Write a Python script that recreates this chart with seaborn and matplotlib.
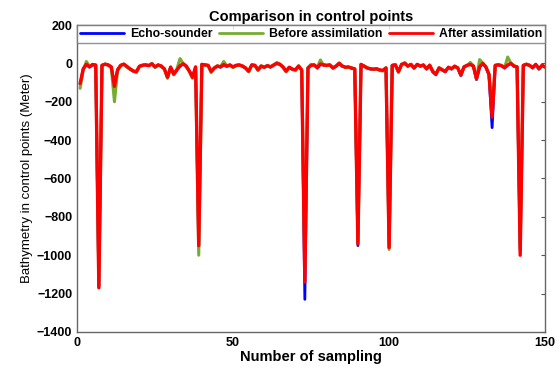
import matplotlib
matplotlib.use("Agg")
import matplotlib.pyplot as plt
import seaborn as sns
import numpy as np
import pandas as pd

sns.set_style("white")
plt.rcParams['font.family'] = ['Liberation Sans', 'DejaVu Sans']
plt.rcParams['text.color'] = 'black'
plt.rcParams['axes.labelcolor'] = 'black'

samples = list(range(1, 151))

echo_sounder = [
    -110, -30, -5, -20, -8, -10, -1165, -10, -5, -8,
    -20, -110, -35, -10, -5, -18, -30, -40, -45, -15,
    -10, -8, -12, -2, -20, -8, -15, -30, -75, -20,
    -58, -35, -15, -2, -15, -40, -75, -20, -960, -5,
    -8, -10, -45, -25, -15, -20, -8, -15, -8, -20,
    -10, -8, -15, -25, -43, -8, -10, -35, -15, -20,
    -12, -20, -10, 0, -5, -20, -43, -20, -30, -35,
    -15, -35, -1230, -25, -10, -8, -25, -5, -8, -10,
    -8, -25, -15, 0, -15, -20, -20, -25, -30, -950,
    -5, -15, -25, -30, -30, -30, -35, -38, -25, -960,
    -10, -8, -45, -5, 0, -15, -5, -25, -5, -15,
    -8, -30, -10, -45, -60, -25, -35, -45, -20, -30,
    -15, -25, -65, -20, -10, -5, -15, -85, -20, 0,
    -20, -60, -335, -10, -8, -12, -25, -10, 0, -15,
    -20, -975, -10, -5, -10, -25, -5, -30, -10, -20,
]

before_assim = [
    -130, -35, 10, -15, -5, -12, -1160, -12, -3, -10,
    -25, -200, -40, -12, -3, -20, -32, -38, -48, -18,
    -12, -5, -10, 0, -22, -10, -12, -32, -78, -18,
    -60, -30, 25, 0, -18, -42, -78, -22, -1000, -8,
    -10, -12, -48, -22, -12, -18, 10, -12, -10, -22,
    -12, -10, -12, -22, -45, -10, -12, -38, -12, -22,
    -10, -18, -12, 5, -3, -22, -45, -22, -32, -38,
    -12, -38, -1060, -22, -5, -10, -20, 18, -10, -12,
    -10, -22, -12, 3, -12, -22, -22, -22, -32, -935,
    -8, -12, -22, -28, -32, -28, -38, -40, -22, -970,
    -12, -5, -48, -8, 5, -12, -8, -22, -8, -12,
    -10, -28, -8, -42, -55, -22, -32, -42, -22, -28,
    -18, -22, -62, -18, -12, 5, -12, -82, 20, 2,
    -18, -55, -250, -12, -5, -10, -22, 33, 2, -12,
    -18, -960, -12, -3, -12, -22, -8, -28, -12, -22,
]

after_assim = [
    -105, -28, -5, -18, -6, -8, -1170, -10, -4, -8,
    -18, -120, -33, -10, -4, -16, -28, -40, -43, -15,
    -9, -8, -12, -2, -18, -8, -14, -28, -72, -20,
    -56, -34, -12, -2, -14, -40, -72, -18, -950, -5,
    -8, -10, -42, -24, -14, -18, -6, -15, -8, -18,
    -10, -8, -14, -24, -40, -8, -10, -33, -14, -20,
    -12, -18, -8, 0, -5, -18, -40, -20, -30, -33,
    -14, -34, -1140, -24, -10, -8, -22, -3, -8, -10,
    -8, -24, -15, 0, -14, -20, -18, -25, -28, -940,
    -5, -15, -24, -28, -30, -28, -34, -36, -24, -960,
    -10, -8, -42, -5, 0, -14, -5, -24, -5, -14,
    -8, -28, -10, -42, -56, -24, -33, -42, -20, -28,
    -14, -24, -60, -18, -10, -5, -14, -80, -18, 0,
    -18, -58, -280, -10, -8, -12, -22, -8, 0, -14,
    -18, -1000, -10, -5, -10, -22, -5, -28, -10, -18,
]

series_names = ["Echo-sounder", "Before assimilation", "After assimilation"]
colors = ["#0000FF", "#77AC30", "#FF0000"]
widths = [2.0, 2.2, 2.4]
x_ticks = [0, 50, 100, 150]
y_ticks = [200, 0, -200, -400, -600, -800, -1000, -1200, -1400]

df = pd.DataFrame({
    "sample": samples * 3,
    "depth": echo_sounder + before_assim + after_assim,
    "series": [series_names[0]] * 150 + [series_names[1]] * 150 + [series_names[2]] * 150,
})

fig = plt.figure(figsize=(5.6, 3.68), dpi=100)
ax = fig.add_axes([0.1375, 0.098, 0.836, 0.834])

for name, c, lw in zip(series_names, colors, widths):
    sub = df[df["series"] == name]
    sns.lineplot(data=sub, x="sample", y="depth", color=c, linewidth=lw,
                 ax=ax, label=name, estimator=None, sort=False)

ax.set_xlim(0, 150)
ax.set_ylim(-1400, 200)
ax.set_xticks(x_ticks)
ax.set_yticks(y_ticks)
ax.tick_params(direction="in", length=3, width=0.8, colors="#555555",
               labelcolor="black", labelsize=9, top=True, right=True)
for lab in ax.get_xticklabels() + ax.get_yticklabels():
    lab.set_fontweight("bold")
for sp in ax.spines.values():
    sp.set_visible(True)
    sp.set_color("#666666")
    sp.set_linewidth(1.0)

ax.set_xlabel("Number of sampling", fontsize=10.5, fontweight="bold", labelpad=1)
ax.set_ylabel("Bathymetry in control points (Meter)", fontsize=9.5, labelpad=3)
ax.set_title("Comparison in control points", fontsize=10.5, fontweight="bold", pad=3)

leg = ax.legend(loc="upper left", bbox_to_anchor=(0, 1, 1, 0), mode="expand",
                ncol=3, borderaxespad=0, fancybox=False, frameon=True,
                handlelength=3.6, handletextpad=0.5, columnspacing=0.8,
                prop={"weight": "bold", "size": 8.8}, borderpad=0.25)
leg.get_frame().set_edgecolor("#777777")
leg.get_frame().set_linewidth(1.0)
for h in leg.get_lines():
    h.set_linewidth(2.0)

fig.savefig("out.png", dpi=100)
